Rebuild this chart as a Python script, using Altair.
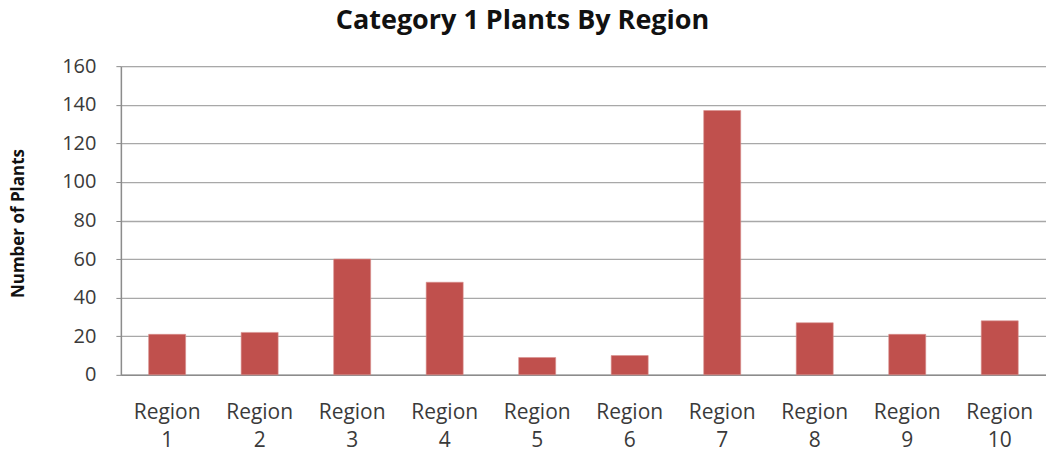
import altair as alt
import pandas as pd

regions = ["Region 1", "Region 2", "Region 3", "Region 4", "Region 5",
           "Region 6", "Region 7", "Region 8", "Region 9", "Region 10"]
plants = [21, 22, 60, 48, 9, 10, 137, 27, 21, 28]
y_ticks = [0, 20, 40, 60, 80, 100, 120, 140, 160]

df = pd.DataFrame({"region": regions, "plants": plants})

FONT = "Open Sans"

chart = (
    alt.Chart(df)
    .mark_bar(color="#C0504D", stroke="#D9908E", strokeWidth=0.6)
    .encode(
        x=alt.X(
            "region:N",
            sort=regions,
            scale=alt.Scale(paddingInner=0.6, paddingOuter=0.3),
            axis=alt.Axis(
                title=None,
                labelAngle=0,
                labelExpr="split(datum.label, ' ')",
                labelFont=FONT,
                labelFontSize=21,
                labelColor="#3a3a3a",
                labelLineHeight=28,
                labelPadding=27,
                labelBaseline="top",
                ticks=False,
                domainColor="#8c8c8c",
                domainWidth=1.5,
                grid=False,
            ),
        ),
        y=alt.Y(
            "plants:Q",
            scale=alt.Scale(domain=[0, 160], nice=False),
            axis=alt.Axis(
                title="Number of Plants",
                values=y_ticks,
                labelFont=FONT,
                labelFontSize=20,
                labelColor="#3a3a3a",
                labelPadding=20,
                tickSize=5,
                tickColor="#8c8c8c",
                domainColor="#8c8c8c",
                domainWidth=1.5,
                gridColor="#a8a8a8",
                gridWidth=1.3,
                titleFont=FONT,
                titleFontSize=17,
                titleFontWeight="bold",
                titleColor="#111111",
                titleAngle=270,
                titleX=-102,
                titleY=157,
                titleAlign="center",
                titleBaseline="middle",
            ),
        ),
    )
    .properties(
        width=926,
        height=309,
        autosize=alt.AutoSizeParams(type="none"),
        padding={"left": 121, "top": 66, "right": 0, "bottom": 78},
        title=alt.TitleParams(
            "Category 1 Plants By Region",
            font=FONT,
            fontSize=27,
            fontWeight="bold",
            color="#111111",
            anchor="middle",
            frame="group",
            dx=-61,
            baseline="alphabetic",
            offset=0,
        ),
    )
    .configure_view(stroke=None)
    .configure(background="white")
)

chart.save("out.html", embed_options={"renderer": "svg", "actions": False})
